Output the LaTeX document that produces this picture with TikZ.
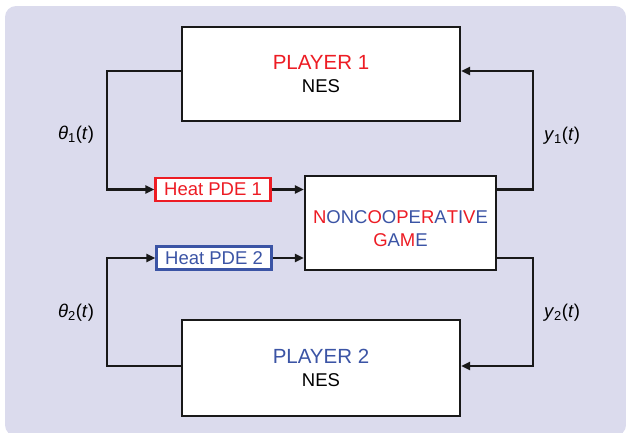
\documentclass[tikz,border=0pt]{standalone}
\usepackage{fontspec}
\setmainfont{Liberation Sans}
\usetikzlibrary{arrows.meta}
\definecolor{bgpanel}{RGB}{219,219,237}
\definecolor{pdered}{RGB}{237,28,36}
\definecolor{pdeblue}{RGB}{59,84,165}
\newcommand{\rd}[1]{\textcolor{pdered}{#1}}
\newcommand{\bl}[1]{\textcolor{pdeblue}{#1}}
\newcommand{\playertitle}[1]{{\fontsize{20.5}{23}\selectfont #1}}

\begin{document}
\begin{tikzpicture}[x=1pt,y=-1pt,
  font=\fontsize{18.5}{23}\selectfont,
  block/.style={draw=black!90,line width=2.4pt,fill=white,inner sep=0pt,align=center},
  pdebox/.style={draw=#1,line width=2.2pt,fill=white,text=#1,inner sep=0pt,minimum height=23,minimum width=115},
  link/.style={draw=black!90,line width=2.4pt,-{Triangle[length=9pt,width=8pt]}}]
\useasboundingbox (0,0) rectangle (626,432);
\fill[bgpanel,rounded corners=11] (5,6) rectangle (626,436);
% players
\node[block,minimum width=278,minimum height=94] (p1) at (321,74) {\playertitle{\rd{PLAYER 1}}\\NES};
\node[block,minimum width=278,minimum height=96] (p2) at (321,368) {\playertitle{\bl{PLAYER 2}}\\NES};
% heat equations and game
\node[pdebox=pdered] (h1) at (213,189.5) {Heat PDE 1};
\node[pdebox=pdeblue] (h2) at (214,258) {Heat PDE 2};
\node[block,minimum width=191,minimum height=94] (g) at (400.5,223)
  {\rule{0pt}{24pt}\rd{N}\bl{ONC}\rd{O}\bl{O}\rd{P}\bl{E}\rd{R}\bl{A}\rd{T}\bl{I}\rd{V}\bl{E}\\\rd{G}\bl{A}\rd{M}\bl{E}};
% loops
\draw[link] ([yshift=3]p1.west) -- ++(-74,0) |- (h1.west);
\draw[link] ([yshift=2]p2.west) -- ++(-74,0) |- (h2.west);
\draw[link] (h1.east) -- (h1.east -| g.west);
\draw[link] (h2.east) -- (h2.east -| g.west);
\draw[link] (h1.east -| g.east) -- ++(36,0) |- ([yshift=3]p1.east);
\draw[link] (h2.east -| g.east) -- ++(36,0) |- ([yshift=2]p2.east);
% signals
\node (th1) at (76,135) {\textit{θ}\textsubscript{1}(\textit{t})};
\node (th2) at (76,313) {\textit{θ}\textsubscript{2}(\textit{t})};
\node (y1) at (562,136) {\textit{y}\textsubscript{1}(\textit{t})};
\node (y2) at (562,313) {\textit{y}\textsubscript{2}(\textit{t})};
\end{tikzpicture}
\end{document}
